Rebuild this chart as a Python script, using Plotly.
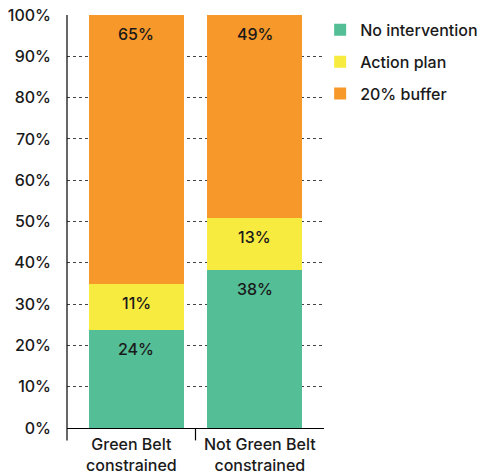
import plotly.graph_objects as go

categories = ["Green Belt<br>constrained", "Not Green Belt<br>constrained"]
series_names = ["No intervention", "Action plan", "20% buffer"]
no_intervention = [23.7, 38.3]
action_plan = [11.2, 12.6]
buffer_20 = [65.1, 49.1]
y_ticks = [0, 10, 20, 30, 40, 50, 60, 70, 80, 90, 100]

colors = ["#54BE96", "#F8EB40", "#F7982A"]
FONT = "Inter"
TXT = "#1a1a1a"

fig = go.Figure()
xs = [0, 1]
series = [no_intervention, action_plan, buffer_20]
for name, vals, col in zip(series_names, series, colors):
    fig.add_trace(go.Bar(
        x=xs, y=vals, name=name, legendgroup=name,
        marker=dict(color=col, line=dict(width=0)),
        width=0.8, hoverinfo="skip",
    ))

# value labels placed just inside the top of each stacked segment
cum = [0.0] * len(xs)
for vals in series:
    for j, v in enumerate(vals):
        cum[j] += v
        fig.add_annotation(x=xs[j], y=cum[j], xref="x", yref="y",
                           text=f"{round(v)}%", showarrow=False,
                           yanchor="top", yshift=-7,
                           font=dict(family=FONT, size=16, color=TXT, weight=500))

fig.update_layout(
    barmode="stack",
    width=481, height=474,
    margin=dict(l=67, r=157, t=15, b=46, autoexpand=False),
    paper_bgcolor="white", plot_bgcolor="white",
    font=dict(family=FONT, size=16, color=TXT),
    showlegend=True,
    legend=dict(x=0.985, y=1.005, xanchor="left", yanchor="top",
                traceorder="grouped", tracegroupgap=8, itemwidth=30,
                font=dict(family=FONT, size=16, color=TXT, weight=500),
                bgcolor="rgba(0,0,0,0)"),
)
fig.update_xaxes(
    range=[-0.585, 1.585], showticklabels=False, ticks="",
    showgrid=False, zeroline=False, automargin=False,
    showline=True, linecolor="black", linewidth=1.2,
)
fig.update_yaxes(
    range=[0, 100], tickvals=y_ticks, ticktext=[f"{t}%" for t in y_ticks],
    showgrid=True, gridcolor="#444", griddash="3px,3px", gridwidth=1,
    zeroline=False, showline=False, ticks="", automargin=False,
    ticklabelstandoff=15,
    tickfont=dict(family=FONT, size=16, color=TXT, weight=500),
)
# axis line extending below plot + category divider
fig.add_shape(type="line", xref="paper", yref="paper", x0=0, x1=0, y0=-0.03, y1=1,
              line=dict(color="black", width=1.2))
fig.add_shape(type="line", xref="x", yref="paper", x0=0.5, x1=0.5, y0=-0.03, y1=0,
              line=dict(color="black", width=1.2))
# category labels centred in each category band
n = len(categories)
for i, c in enumerate(categories):
    fig.add_annotation(text=c, xref="paper", yref="paper", x=(i + 0.5) / n, y=0,
                       xanchor="center", yanchor="top", yshift=-4, showarrow=False,
                       font=dict(family=FONT, size=16, color=TXT, weight=500))

fig.write_html("out.html", config={"displayModeBar": False},
               post_script="document.body.style.margin='0';document.body.style.overflow='hidden';")
